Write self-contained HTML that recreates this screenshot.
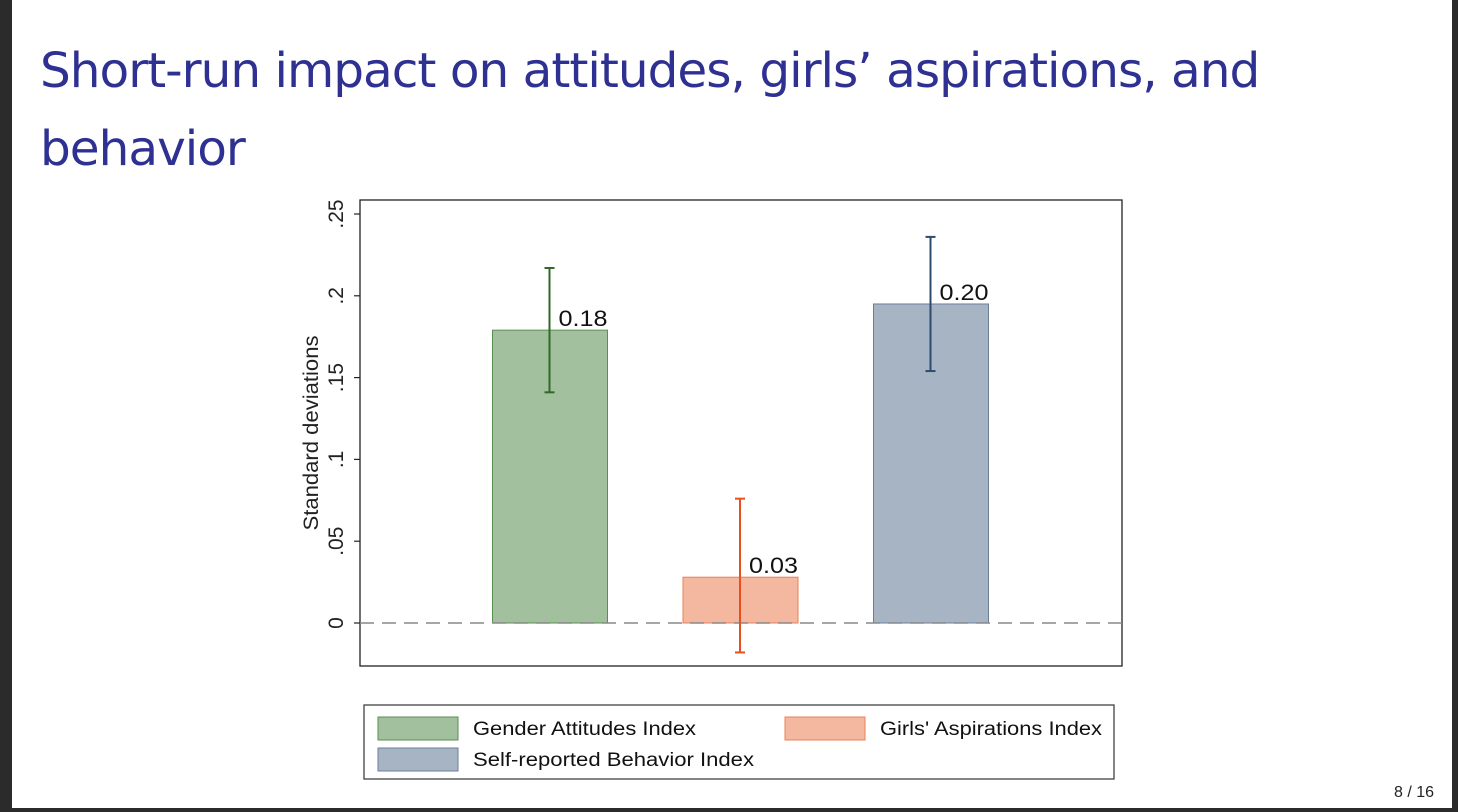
<!DOCTYPE html>
<html><head><meta charset="utf-8"><style>
html,body{margin:0;padding:0;}
body{width:1458px;height:812px;background:#fff;position:relative;overflow:hidden;font-family:"Liberation Sans",sans-serif;}
.lb{position:absolute;left:0;top:0;width:12px;height:812px;background:#2b2b2b;}
.rb{position:absolute;right:0;top:0;width:6px;height:812px;background:#2b2b2b;}
.bb{position:absolute;left:0;bottom:0;width:1458px;height:4px;background:#2b2b2b;}
.title{position:absolute;left:40px;top:32px;color:#2e3192;font-size:48.5px;line-height:78px;font-family:"DejaVu Sans","Liberation Sans",sans-serif;letter-spacing:-1px;}
.pg{position:absolute;right:24px;top:784px;font-size:16px;color:#222;}
</style></head><body>
<div class="lb"></div>
<div class="rb"></div>
<div class="bb"></div>
<div class="title">Short-run impact on attitudes, girls’ aspirations, and<br>behavior</div>
<div class="pg">8 / 16</div>
<svg id="chart" width="1458" height="812" style="position:absolute;left:0;top:0"></svg>
<script>
const categories=["Gender Attitudes Index","Girls' Aspirations Index","Self-reported Behavior Index"];
const values=[0.179,0.028,0.195];
const labels=["0.18","0.03","0.20"];
const ciLow=[0.141,-0.018,0.154];
const ciHigh=[0.217,0.076,0.236];
const yTicks=[0,0.05,0.1,0.15,0.2,0.25];
const yTickLabels=["0",".05",".1",".15",".2",".25"];
const fills=["#a2bf9e","#f4b8a0","#a7b4c4"];
const strokes=["#5a8f52","#e8805a","#6b7f9a"];
const errColors=["#2f6b24","#e8501e","#2e4a6e"];
const legendWidths=[223,222,281];
const NS="http://www.w3.org/2000/svg";
const svg=document.getElementById('chart');
function y(v){return 623-v*1636;}
function cx(i){return 550+i*190.5;}
function mk(t,a,p){const e=document.createElementNS(NS,t);for(const k in a)e.setAttribute(k,a[k]);(p||svg).appendChild(e);return e;}
let fr=mk('rect',{x:360,y:200,width:762,height:466,fill:'none',stroke:'#222','stroke-width':1.3});


yTicks.forEach((t,i)=>{
  let l=mk('line',{x1:354,x2:360,y1:y(t),y2:y(t),stroke:'#222','stroke-width':1.2});
  
  
  let tx=mk('text',{x:0,y:0,transform:`translate(343,${y(t)}) rotate(-90)`,'text-anchor':'middle','font-size':21,fill:'#222'});
  tx.textContent=yTickLabels[i];
  
  
});
let yt=mk('text',{x:0,y:0,transform:'translate(318,433) rotate(-90)','text-anchor':'middle','font-size':21,fill:'#222',textLength:195,lengthAdjust:'spacingAndGlyphs'});
yt.textContent='Standard deviations';


values.forEach((v,i)=>{
  let b=mk('rect',{x:cx(i)-57.5,y:Math.min(y(v),y(0)),width:115,height:Math.abs(y(0)-y(v)),fill:fills[i],stroke:strokes[i],'stroke-width':1});
  
  
});
let zl=mk('line',{x1:360,x2:1122,y1:y(0),y2:y(0),stroke:'#888','stroke-width':1.5,'stroke-dasharray':'14,8'});


values.forEach((v,i)=>{
  const x=cx(i)-0.5;
  let g=mk('g',{stroke:errColors[i],'stroke-width':2});
  
  
  mk('line',{x1:x,x2:x,y1:y(ciLow[i]),y2:y(ciHigh[i])},g);
  mk('line',{x1:x-5,x2:x+5,y1:y(ciLow[i]),y2:y(ciLow[i])},g);
  mk('line',{x1:x-5,x2:x+5,y1:y(ciHigh[i]),y2:y(ciHigh[i])},g);
  let t=mk('text',{x:x+9,y:y(v)-4,'font-size':22,fill:'#111',textLength:49,lengthAdjust:'spacingAndGlyphs'});
  t.textContent=labels[i];
  
  
});
let lg=mk('rect',{x:364,y:705,width:750,height:74,fill:'#fff',stroke:'#333','stroke-width':1.2});


const legPos=[[378,717],[785,717],[378,748]];
categories.forEach((c,i)=>{
  let s=mk('rect',{x:legPos[i][0],y:legPos[i][1],width:80,height:23,fill:fills[i],stroke:strokes[i],'stroke-width':1});
  
  
  let t=mk('text',{x:legPos[i][0]+95,y:legPos[i][1]+18,'font-size':19,fill:'#111',textLength:legendWidths[i],lengthAdjust:'spacingAndGlyphs'});
  t.textContent=c;
  
  
});
</script>
</body></html>
